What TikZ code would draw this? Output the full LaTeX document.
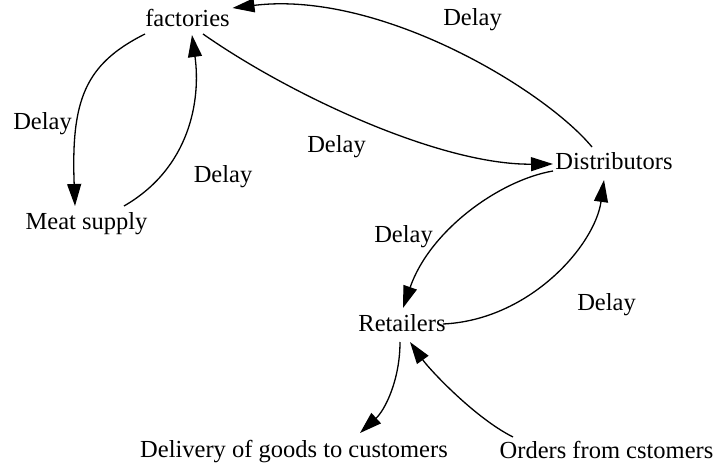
\documentclass[tikz,border=0pt]{standalone}
\usepackage{fontspec}
\setmainfont{Liberation Serif}
\usetikzlibrary{arrows.meta,calc}
\begin{document}
\begin{tikzpicture}[x=1pt,y=-1pt,
  lbl/.style={inner sep=0pt,anchor=base,font=\fontsize{24.5}{28}\selectfont},
  edge/.style={line width=1.3pt,-{Triangle[length=22pt,width=14pt]}}]
\useasboundingbox (0,0) rectangle (723,465);
\node[lbl] (fac) at (187.5,26.5) {factories};
\node[lbl] (dist) at (614,170) {Distributors};
\node[lbl] (meat) at (86.5,230) {Meat supply};
\node[lbl] (ret) at (402,331) {Retailers};
\node[lbl] (del) at (294,457) {Delivery of goods to customers};
\node[lbl] (ord) at (606.5,458) {Orders from cstomers};
\node[lbl] (d1) at (472.5,26) {Delay};
\node[lbl] (d2) at (42.5,130) {Delay};
\node[lbl] (d3) at (223,183) {Delay};
\node[lbl] (d4) at (336.5,152.7) {Delay};
\node[lbl] (d5) at (403.5,242.7) {Delay};
\node[lbl] (d6) at (606.5,310.7) {Delay};
\draw[edge] ($(dist.base)+(-22,-23)$) .. controls +(-47,-57) and +(147.5,-18) .. ($(fac.base)+(45,-18.5)$);
\draw[edge] ($(fac.base)+(15.5,7.5)$) .. controls +(87,61) and +(-113,1) .. ($(dist.base)+(-61,-6)$);
\draw[edge] ($(fac.base)+(-42.5,7.5)$) .. controls +(-60,30) and +(-4,-106) .. ($(meat.base)+(-11.5,-24)$);
\draw[edge] ($(meat.base)+(37.5,-24)$) .. controls +(66,-38) and +(9,65) .. ($(fac.base)+(4.5,8.5)$);
\draw[edge] ($(dist.base)+(-61,1)$) .. controls +(-53,9) and +(27,-78) .. ($(ret.base)+(1,-23)$);
\draw[edge] ($(ret.base)+(41,-7)$) .. controls +(87,-4) and +(-9,65) .. ($(dist.base)+(-10,10)$);
\draw[edge] ($(ret.base)+(-2,11)$) .. controls +(0,38) and +(25,-23) .. ($(del.base)+(66,-24)$);
\draw[edge] ($(ord.base)+(-93.5,-21)$) .. controls +(-38,-19) and +(20,28) .. ($(ret.base)+(8,11)$);
\end{tikzpicture}
\end{document}
